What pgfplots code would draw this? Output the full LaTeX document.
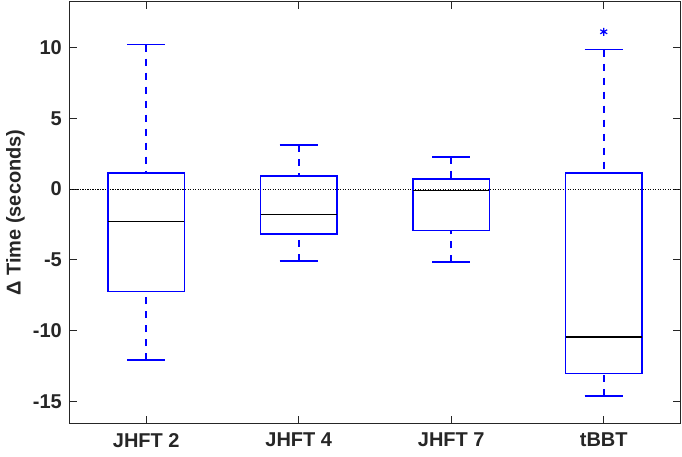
\documentclass[border=0pt]{standalone}
\usepackage{pgfplots}
\pgfplotsset{compat=1.18}
\usepgfplotslibrary{statistics}
\usepackage{fontspec}
\setmainfont{Liberation Sans}
\definecolor{mblue}{RGB}{0,0,255}
\definecolor{axgray}{RGB}{38,38,38}
\pgfplotsset{
  boxplot/draw direction=y,
  boxplot/draw/lower whisker/.code={
    \draw[dash pattern=on 7pt off 7pt] (boxplot box cs:\pgfplotsboxplotvalue{lower whisker},0.5) -- (boxplot box cs:\pgfplotsboxplotvalue{lower quartile},0.5);
    \draw[solid] (boxplot box cs:\pgfplotsboxplotvalue{lower whisker},0.25) -- (boxplot box cs:\pgfplotsboxplotvalue{lower whisker},0.75);
  },
  boxplot/draw/upper whisker/.code={
    \draw[dash pattern=on 7pt off 7pt] (boxplot box cs:\pgfplotsboxplotvalue{upper whisker},0.5) -- (boxplot box cs:\pgfplotsboxplotvalue{upper quartile},0.5);
    \draw[solid] (boxplot box cs:\pgfplotsboxplotvalue{upper whisker},0.25) -- (boxplot box cs:\pgfplotsboxplotvalue{upper whisker},0.75);
  },
  boxplot/draw/median/.code={
    \draw[black, line width=1.4pt] (boxplot box cs:\pgfplotsboxplotvalue{median},0) -- (boxplot box cs:\pgfplotsboxplotvalue{median},1);
  },
}
\begin{document}
\fontsize{20}{24}\selectfont
\begin{tikzpicture}
\begin{axis}[
  name=ax,
  scale only axis, width=610pt, height=421pt,
  xmin=0.5, xmax=4.5, ymin=-16.5, ymax=13.2,
  xtick={1,2,3,4}, xticklabels={JHFT 2, JHFT 4, JHFT 7, tBBT},
  ytick={-15,-10,-5,0,5,10},
  tick align=inside, major tick length=7pt,
  axis line style={axgray, line width=1pt},
  every tick/.style={axgray, line width=1pt},
  tick label style={font=\fontsize{20}{24}\selectfont\bfseries, text=axgray},
  /pgf/number format/assume math mode=true,
  xticklabel style={inner sep=0pt, yshift=-10pt},
  yticklabel style={inner sep=0pt, xshift=-8pt},
  ylabel={Δ Time (seconds)},
  every axis y label/.style={at={(axis description cs:-0.0738,0.5)}, rotate=90, anchor=south, inner sep=0pt, font=\fontsize{20}{24}\selectfont\bfseries, text=axgray},
  clip=false,
]
\addplot[black, line width=1pt, dash pattern=on 1.2pt off 1.3pt] coordinates {(0.5,0) (4.5,0)};
\addplot[mblue, line width=1.6pt, solid, boxplot prepared={draw position=1, median=-2.27, upper quartile=1.15, lower quartile=-7.23, upper whisker=10.19, lower whisker=-12.07, box extend=0.5}] coordinates {};
\addplot[mblue, line width=1.6pt, solid, boxplot prepared={draw position=2, median=-1.78, upper quartile=0.92, lower quartile=-3.17, upper whisker=3.10, lower whisker=-5.07, box extend=0.5}] coordinates {};
\addplot[mblue, line width=1.6pt, solid, boxplot prepared={draw position=3, median=-0.09, upper quartile=0.70, lower quartile=-2.91, upper whisker=2.28, lower whisker=-5.16, box extend=0.5}] coordinates {};
\addplot[mblue, line width=1.6pt, solid, mark=asterisk, mark size=4pt, mark options={solid, line width=1.2pt, mblue}, boxplot prepared={draw position=4, median=-10.42, upper quartile=1.13, lower quartile=-13.0, upper whisker=9.84, lower whisker=-14.58, box extend=0.5}] coordinates {(4,11.1)};
\end{axis}
\pgfresetboundingbox
\path[use as bounding box] ([shift={(-70pt,-33pt)}]ax.south west) rectangle ([shift={(2pt,2pt)}]ax.north east);
\end{tikzpicture}
\end{document}
